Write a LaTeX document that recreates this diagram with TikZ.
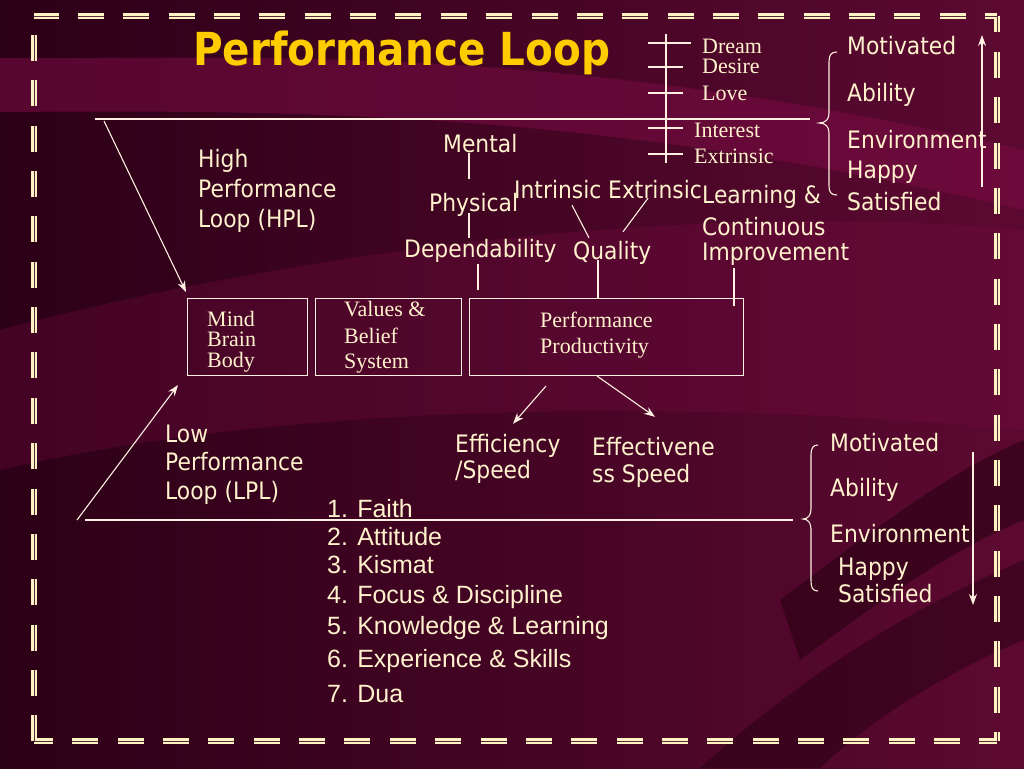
\documentclass[tikz,border=0pt]{standalone}
\usepackage{fontspec}
\usetikzlibrary{arrows.meta}
\newfontfamily\tah[FakeStretch=0.91]{DejaVu Sans}
\newfontfamily\ttl[FakeStretch=0.89]{DejaVu Sans}
\newfontfamily\tms{Liberation Serif}
\newfontfamily\ari{Liberation Sans}
\definecolor{cream}{HTML}{FFF2CC}
\definecolor{lnc}{HTML}{FFEFE0}
\definecolor{gold}{HTML}{FFCC00}
\definecolor{bgA}{HTML}{2C0017}
\definecolor{bgB}{HTML}{5C0931}
\definecolor{band}{HTML}{7A0C44}
\definecolor{bdark}{HTML}{22000E}
\definecolor{bordc}{HTML}{FFF3C4}
\definecolor{bordk}{HTML}{5A2A38}
\tikzset{
  tx/.style={inner sep=0pt, anchor=base west, text=cream, font=\tah\fontsize{24}{28}\selectfont, text height=17pt, text depth=5pt},
  tm/.style={inner sep=0pt, anchor=base west, text=cream, font=\tms\fontsize{22}{24}\selectfont, text height=15pt, text depth=5pt},
  ar/.style={inner sep=0pt, anchor=base west, text=cream, font=\ari\fontsize{25}{28}\selectfont},
  boxn/.style={draw=lnc, line width=1pt, inner sep=0pt, anchor=north west},
  ln/.style={draw=lnc, line width=1.1pt},
  arr/.style={ln, -{Stealth[length=11pt,width=8pt]}},
  bo/.style={draw=bordc, line width=6pt},
  bi/.style={draw=bordk, line width=0.8pt}
}
\begin{document}
\begin{tikzpicture}[x=1pt,y=-1pt]
\useasboundingbox (0,0) rectangle (1024,768);
% background
\shade[left color=bgA, right color=bgB] (0,0) rectangle (1024,768);
\fill[band, opacity=0.55] (0,58) .. controls (250,60) and (550,40) .. (1024,150) -- (1024,210) .. controls (600,110) and (300,110) .. (0,112) -- cycle;
\fill[band, opacity=0.3] (0,330) .. controls (300,250) and (700,200) .. (1024,230) -- (1024,430) .. controls (700,400) and (300,400) .. (0,470) -- cycle;
\fill[bdark, opacity=0.5] (780,600) .. controls (860,540) and (950,470) .. (1024,440) -- (1024,520) .. controls (960,545) and (880,600) .. (800,660) -- cycle;
\fill[bdark, opacity=0.45] (700,768) .. controls (820,660) and (930,600) .. (1024,560) -- (1024,640) .. controls (950,670) and (870,720) .. (820,768) -- cycle;
% border
\foreach \s in {bo,bi}{
  \draw[\s, dash pattern=on 26pt off 19.35pt, dash phase=14pt] (997,16.5) -- (34,16.5);
  \draw[\s, dash pattern=on 26pt off 19.35pt, dash phase=10pt] (997,16.5) -- (997,741);
  \draw[\s, dash pattern=on 26pt off 19.35pt, dash phase=7pt] (34,741) -- (997,741);
  \draw[\s, dash pattern=on 26pt off 19.35pt] (34,35) -- (34,741);
}
% title
\node[anchor=base west, inner sep=0pt, text=gold, font=\ttl\bfseries\fontsize{45.5}{50}\selectfont] (title) at (193,65) {Performance Loop};
% top tick structure
\coordinate (tkt) at (666,34); \coordinate (tkb) at (666,163);
\draw[ln] (tkt) -- (tkb);
\foreach \yy/\xe in {43/691,67/683,93/683,128/683,154/683}{
  \draw[ln] (648,\yy) -- (\xe,\yy);
}
\node[tm] (dream) at (702,53) {Dream};
\node[tm] (desire) at (702,74) {Desire};
\node[tm] (love) at (702,100) {Love};
\node[tm] (interest) at (694,137) {Interest};
\node[tm] (extr1) at (694,163) {Extrinsic};
% top line and HPL arrow
\coordinate (hl1) at (95,119); \coordinate (hr1) at (810,119);
\draw[ln] (hl1) -- (hr1);
\coordinate (hplstart) at (104,121);
% top right brace
\draw[ln] (837,52) .. controls (831,52) and (829,55) .. (829,62) -- (829,113) .. controls (829,119) and (826,123) .. (819,123) .. controls (826,123) and (829,127) .. (829,133) -- (829,186) .. controls (829,192) and (831,195) .. (837,195);
\node[tx] (mot1) at (847,55) {Motivated};
\node[tx] (abi1) at (847,101) {Ability};
\node[tx] (env1) at (847,148) {Environment};
\node[tx] (hap1) at (847,178) {Happy};
\node[tx] (sat1) at (847,210) {Satisfied};
\coordinate (ua1) at (982,187); \coordinate (ua2) at (982,35);
\draw[arr] (ua1) -- (ua2);
% HPL text
\node[tx] (hpl1) at (198,167) {High};
\node[tx] (hpl2) at (198,197) {Performance};
\node[tx] (hpl3) at (198,227) {Loop (HPL)};
% middle labels
\node[tx] (mental) at (443,152) {Mental};
\node[tx] (physical) at (429,211) {Physical};
\node[tx] (dep) at (404,257) {Dependability};
\node[tx] (intr) at (514,198) {Intrinsic};
\node[tx] (extr2) at (608,198) {Extrinsic};
\node[tx] (quality) at (573,259) {Quality};
\node[tx] (learn) at (702,203) {Learning \&};
\node[tx] (cont) at (702,235) {Continuous};
\node[tx] (impr) at (702,260) {Improvement};
% boxes
\node[boxn, minimum width=120pt, minimum height=77pt] (mindbox) at (187,298) {};
\node[boxn, minimum width=146pt, minimum height=77pt] (valbox) at (315,298) {};
\node[boxn, minimum width=274pt, minimum height=77pt] (perfbox) at (469,298) {};
\node[tm] (mind) at (207,326) {Mind};
\node[tm] (brain) at (207,346) {Brain};
\node[tm] (body) at (207,367) {Body};
\node[tm] (values) at (344,316) {Values \&};
\node[tm] (belief) at (344,343) {Belief};
\node[tm] (system) at (344,368) {System};
\node[tm] (perf) at (540,327) {Performance};
\node[tm] (prod) at (540,353) {Productivity};
% connectors in the middle
\draw[ln] ([shift={(26pt,4pt)}]mental.south west) -- ([shift={(40pt,15pt)}]physical.north west);
\draw[ln] ([shift={(40pt,3pt)}]physical.south west) -- ([shift={(65pt,2pt)}]dep.north west);
\draw[ln] ([shift={(74pt,-2pt)}]dep.south west) -- ([shift={(9pt,8pt)}]perfbox.north west);
\draw[ln] ([shift={(58pt,-2pt)}]intr.south west) -- ([shift={(16pt,4pt)}]quality.north west);
\draw[ln] ([shift={(40pt,5pt)}]extr2.south west) -- ([shift={(50pt,10pt)}]quality.north west);
\draw[ln] ([shift={(25pt,4pt)}]quality.south west) -- ([shift={(129pt,0pt)}]perfbox.north west);
\draw[ln] ([shift={(32pt,-3pt)}]impr.south west) -- ([shift={(265pt,-8pt)}]perfbox.north west);
\draw[arr] (hplstart) -- ([shift={(-1pt,6pt)}]mindbox.north west);
% lower part
\node[tx] (eff1) at (455,452) {Efficiency};
\node[tx] (eff2) at (455,478) {/Speed};
\node[tx] (efv1) at (592,455) {Effectivene};
\node[tx] (efv2) at (592,482) {ss Speed};
\draw[arr] ([shift={(77pt,-10pt)}]perfbox.south west) -- ([shift={(58pt,11pt)}]eff1.north west);
\draw[arr] ([shift={(128pt,0pt)}]perfbox.south west) -- ([shift={(63pt,21pt)}]efv1.north west);
\node[tx] (lpl1) at (165,442) {Low};
\node[tx] (lpl2) at (165,470) {Performance};
\node[tx] (lpl3) at (165,499) {Loop (LPL)};
\coordinate (lplstart) at (77,520);
\draw[arr] (lplstart) -- ([shift={(-9pt,-9pt)}]mindbox.south west);
\coordinate (bl1) at (85,520); \coordinate (br1) at (793,520);
\draw[ln] (bl1) -- (br1);
% bottom right brace
\draw[ln] (818,445) .. controls (813,445) and (811,448) .. (811,455) -- (811,509) .. controls (811,515) and (808,519) .. (803,519) .. controls (808,519) and (811,523) .. (811,529) -- (811,581) .. controls (811,588) and (813,591) .. (818,591);
\node[tx] (mot2) at (830,451) {Motivated};
\node[tx] (abi2) at (830,496) {Ability};
\node[tx] (env2) at (830,542) {Environment};
\node[tx] (hap2) at (838,575) {Happy};
\node[tx] (sat2) at (838,602) {Satisfied};
\coordinate (da1) at (973,452); \coordinate (da2) at (973,605);
\draw[arr] (da1) -- (da2);
% numbered list
\node[ar] (l1) at (327,517) {1. Faith};
\node[ar] (l2) at (327,545) {2. Attitude};
\node[ar] (l3) at (327,573) {3. Kismat};
\node[ar] (l4) at (327,603) {4. Focus \& Discipline};
\node[ar] (l5) at (327,634) {5. Knowledge \& Learning};
\node[ar] (l6) at (327,667) {6. Experience \& Skills};
\node[ar] (l7) at (327,702) {7. Dua};
\end{tikzpicture}
\end{document}
